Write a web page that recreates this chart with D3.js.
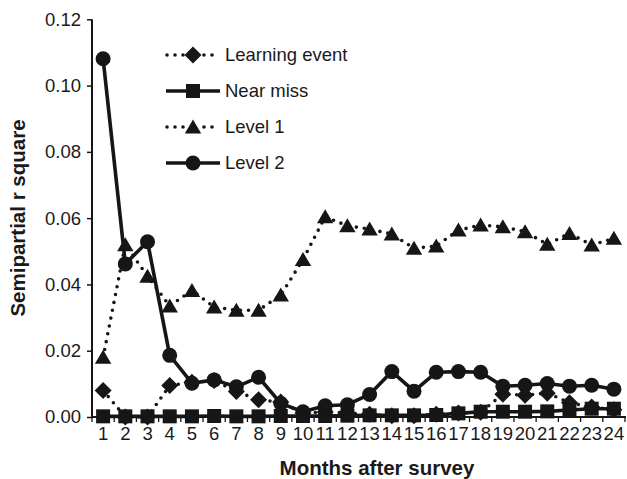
<!DOCTYPE html>
<html>
<head>
<meta charset="utf-8">
<script src="https://cdn.jsdelivr.net/npm/d3@7/dist/d3.min.js"></script>
<style>
  body { margin: 0; background: #fff; }
  text { font-family: "Liberation Sans", Arial, sans-serif; fill: #1a1a1a; }
</style>
</head>
<body>
<div id="chart"></div>
<script>

// data
var months = ["1","2","3","4","5","6","7","8","9","10","11","12",
  "13","14","15","16","17","18","19","20","21","22","23","24"];
var learningEvent = [0.0080, 0.0000, 0.0000, 0.0095, 0.0105, 0.0110, 0.0077, 0.0052,
  0.0045, 0.0012, 0.0015, 0.0012, 0.0008, 0.0004, 0.0004, 0.0008, 0.0012, 0.0014,
  0.0069, 0.0066, 0.0072, 0.0043, 0.0030, 0.0022];
var nearMiss = [0.0002, 0.0002, 0.0002, 0.0002, 0.0002, 0.0003, 0.0002, 0.0002,
  0.0003, 0.0003, 0.0003, 0.0004, 0.0005, 0.0005, 0.0005, 0.0006, 0.0011, 0.0016,
  0.0016, 0.0016, 0.0017, 0.0021, 0.0025, 0.0025];
var level1 = [0.0180, 0.0520, 0.0425, 0.0335, 0.0382, 0.0332, 0.0322, 0.0322,
  0.0368, 0.0475, 0.0604, 0.0577, 0.0567, 0.0552, 0.0509, 0.0516, 0.0564, 0.0579,
  0.0574, 0.0559, 0.0521, 0.0554, 0.0519, 0.0539];
var level2 = [0.1081, 0.0462, 0.0529, 0.0186, 0.0102, 0.0112, 0.0091, 0.0120,
  0.0041, 0.0016, 0.0034, 0.0037, 0.0068, 0.0137, 0.0078, 0.0135, 0.0137, 0.0135,
  0.0093, 0.0096, 0.0101, 0.0093, 0.0096, 0.0084];
var yTicks = [0, 0.02, 0.04, 0.06, 0.08, 0.10, 0.12];

var series = [
  {name: "Learning event", values: learningEvent, dotted: true,  shape: "diamond"},
  {name: "Near miss",      values: nearMiss,      dotted: false, shape: "square"},
  {name: "Level 1",        values: level1,        dotted: true,  shape: "triangle"},
  {name: "Level 2",        values: level2,        dotted: false, shape: "circle"}
];

var W = 627, H = 479;
var ink = "#161616";

var svg = d3.select("#chart")
  .append("svg")
    .attr("width", W)
    .attr("height", H);

// scales
var x = d3.scaleBand()
  .domain(months)
  .range([92, 625])
  .padding(0);
var y = d3.scaleLinear()
  .domain([0, 0.12])
  .range([417, 19.3]);

function cx(i) { return x(months[i]) + x.bandwidth() / 2; }

// marker shapes (centred on the point)
function markerPath(shape) {
  if (shape == "square") return "M-7,-7H7V7H-7Z";
  if (shape == "diamond") return "M0,-8.5L8.5,0L0,8.5L-8.5,0Z";
  if (shape == "triangle") return "M0,-7.5L8.2,6.5L-8.2,6.5Z";
  return d3.symbol().type(d3.symbolCircle).size(Math.PI * 7.5 * 7.5)();
}

function styleLine(sel, dotted) {
  sel.attr("fill", "none")
    .attr("stroke", ink)
    .attr("stroke-width", 3.6)
    .attr("stroke-linecap", dotted ? "round" : "butt")
    .attr("stroke-linejoin", "round")
    .attr("stroke-dasharray", dotted ? "0,8" : null);
}

//////////
// AXES //
//////////

var yAxis = svg.append("g")
  .attr("transform", "translate(92,0)")
  .call(d3.axisLeft(y).tickValues(yTicks).tickFormat(d3.format(".2f")).tickSize(5).tickPadding(6));
yAxis.select(".domain").remove();
yAxis.selectAll("line").attr("stroke", ink).attr("stroke-width", 1.5);
yAxis.selectAll("text").style("font-size", "18.5px").attr("fill", ink);

var xAxis = svg.append("g")
  .attr("transform", "translate(0,417)")
  .call(d3.axisBottom(x).tickSize(0).tickPadding(10));
xAxis.select(".domain").remove();
xAxis.selectAll("text").style("font-size", "18.5px").attr("fill", ink).attr("dy", "0.68em");

// category boundary ticks
svg.append("g").selectAll("line")
  .data(months.concat(["end"]))
  .enter()
  .append("line")
    .attr("x1", function(d) { return d == "end" ? x.range()[1] : x(d); })
    .attr("x2", function(d) { return d == "end" ? x.range()[1] : x(d); })
    .attr("y1", 417)
    .attr("y2", 422)
    .attr("stroke", ink)
    .attr("stroke-width", 1.3);

// axis lines
svg.append("line")
  .attr("x1", 92).attr("x2", 92)
  .attr("y1", y(0.12)).attr("y2", 418)
  .attr("stroke", ink).attr("stroke-width", 2);
svg.append("line")
  .attr("x1", 91).attr("x2", 626)
  .attr("y1", 417).attr("y2", 417)
  .attr("stroke", ink).attr("stroke-width", 2);

// axis titles
svg.append("text")
  .attr("x", 377)
  .attr("y", 475)
  .attr("text-anchor", "middle")
  .style("font-size", "20.5px")
  .style("font-weight", "bold")
  .text("Months after survey");

svg.append("text")
  .attr("transform", "translate(25,218) rotate(-90)")
  .attr("text-anchor", "middle")
  .style("font-size", "20.5px")
  .style("font-weight", "bold")
  .text("Semipartial r square");

//////////
// SERIES //
//////////

var line = d3.line()
  .x(function(d, i) { return cx(i); })
  .y(function(d) { return y(d); });

series.forEach(function(s) {
  var g = svg.append("g");
  g.append("path")
    .attr("d", line(s.values))
    .call(styleLine, s.dotted);
  g.selectAll("path.mark")
    .data(s.values)
    .enter()
    .append("path")
      .attr("class", "mark")
      .attr("d", markerPath(s.shape))
      .attr("transform", function(d, i) { return "translate(" + cx(i) + "," + y(d) + ")"; })
      .attr("fill", ink);
});

//////////
// LEGEND //
//////////

var rowY = [55, 91, 127, 163];
series.forEach(function(s, i) {
  var g = svg.append("g").attr("transform", "translate(0," + rowY[i] + ")");
  if (s.dotted) {
    g.append("line").attr("x1", 167).attr("x2", 184).attr("y1", 0).attr("y2", 0).call(styleLine, true);
    g.append("line").attr("x1", 204).attr("x2", 213).attr("y1", 0).attr("y2", 0).call(styleLine, true);
  } else {
    g.append("line").attr("x1", 166).attr("x2", 220).attr("y1", 0).attr("y2", 0).call(styleLine, false);
  }
  g.append("path")
    .attr("d", markerPath(s.shape))
    .attr("transform", "translate(193,0)")
    .attr("fill", ink);
  g.append("text")
    .attr("x", 225)
    .attr("y", 0)
    .attr("dy", "0.35em")
    .style("font-size", "18.5px")
    .text(s.name);
});

</script>
</body>
</html>
